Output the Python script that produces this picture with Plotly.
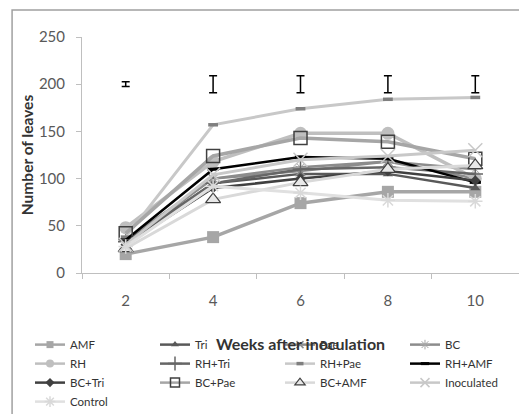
import plotly.graph_objects as go

weeks = ["2", "4", "6", "8", "10"]

AMF = [20, 38, 74, 86, 86]
Tri = [30, 95, 105, 105, 90]
Pae = [32, 100, 108, 118, 100]
BC = [35, 100, 112, 118, 110]
RH = [48, 118, 148, 148, 100]
RH_Tri = [33, 95, 110, 112, 105]
RH_Pae = [38, 157, 174, 184, 186]
RH_AMF = [35, 110, 123, 121, 96]
BC_Tri = [30, 90, 100, 108, 98]
BC_Pae = [42, 124, 143, 139, 121]
BC_AMF = [26, 78, 96, 110, 114]
Inoculated = [30, 104, 120, 124, 130]
Control = [28, 92, 85, 77, 76]

lsd_y = [200, 200, 200, 200, 200]
lsd_err = [2.5, 9, 9, 9, 9]

# name, values, line colour, line width, marker style, legend marker size
series = [
    ("AMF", AMF, "#a6a6a6", 3.5, dict(symbol="square", size=12, color="#a6a6a6"), 7),
    ("Tri", Tri, "#595959", 2.5, dict(symbol="triangle-up", size=9, color="#595959"), 7),
    ("Pae", Pae, "#8c8c8c", 2.5, dict(symbol="x-thin-open", size=9, color="#8c8c8c", line=dict(width=1.5, color="#8c8c8c")), 7),
    ("BC", BC, "#8c8c8c", 2.5, dict(symbol="asterisk-open", size=10, color="#a6a6a6", line=dict(width=1, color="#a6a6a6")), 8),
    ("RH", RH, "#bfbfbf", 3.5, dict(symbol="circle", size=13, color="#bfbfbf"), 8),
    ("RH+Tri", RH_Tri, "#666666", 2.5, dict(symbol="cross-thin-open", size=11, color="#666666", line=dict(width=1.5, color="#666666")), 10),
    ("RH+Pae", RH_Pae, "#c8c8c8", 3, dict(symbol="line-ew-open", size=7, color="#7f7f7f", line=dict(width=3.5, color="#7f7f7f")), 5),
    ("RH+AMF", RH_AMF, "#000000", 2.5, dict(symbol="line-ew-open", size=8, color="#000000", line=dict(width=3, color="#000000")), 6),
    ("BC+Tri", BC_Tri, "#404040", 2.5, dict(symbol="diamond", size=8, color="#404040"), 7),
    ("BC+Pae", BC_Pae, "#a6a6a6", 3.5, dict(symbol="square-open", size=13, color="#404040", line=dict(width=1.5, color="#404040")), 9),
    ("BC+AMF", BC_AMF, "#d9d9d9", 3, dict(symbol="triangle-up", size=13, color="#e8e8e8", line=dict(width=1.2, color="#404040")), 9),
    ("Inoculated", Inoculated, "#c8c8c8", 3, dict(symbol="x-thin-open", size=14, color="#c8c8c8", line=dict(width=1.5, color="#c8c8c8")), 9),
    ("Control", Control, "#e0e0e0", 3, dict(symbol="asterisk-open", size=12, color="#d9d9d9", line=dict(width=1.5, color="#d9d9d9")), 9),
]

fig = go.Figure()
for name, vals, col, w, mk, lsize in series:
    fig.add_trace(go.Scatter(
        x=weeks, y=vals, name=name, mode="lines+markers", legendgroup=name,
        showlegend=False, line=dict(color=col, width=w), marker=mk,
    ))
for name, vals, col, w, mk, lsize in series:
    lmk = dict(mk)
    lmk["size"] = lsize
    fig.add_trace(go.Scatter(
        x=[None], y=[None], name=name, mode="lines+markers", legendgroup=name,
        showlegend=True, line=dict(color=col, width=min(w, 2.5)), marker=lmk,
    ))

fig.add_trace(go.Scatter(
    x=weeks, y=lsd_y, mode="markers", showlegend=False,
    marker=dict(size=1, color="rgba(0,0,0,0)"),
    error_y=dict(type="data", array=lsd_err, visible=True, color="#000000", thickness=1.5, width=4),
))

# page body has an 8px margin, so the figure is sized to fill the rest of the window
fig.update_layout(
    width=519, height=406,
    margin=dict(l=74, r=8, t=29, b=141, autoexpand=False),
    paper_bgcolor="white", plot_bgcolor="white",
    font=dict(family="Lato", color="#404040"),
    showlegend=True,
    legend=dict(
        orientation="h", x=-0.119, xanchor="left", y=-0.242, yanchor="top",
        entrywidth=80, entrywidthmode="pixels",
        font=dict(family="Lato", size=11.5, color="#333333"),
        bgcolor="rgba(0,0,0,0)", tracegroupgap=0, itemwidth=30,
    ),
    xaxis=dict(
        type="category", range=[-0.5, 4.5],
        showline=True, linecolor="#bfbfbf", linewidth=1,
        ticks="outside", tickson="boundaries", ticklen=5, tickcolor="#bfbfbf",
        showgrid=False, zeroline=False, ticklabelstandoff=14,
        tickfont=dict(family="Lato", size=15, color="#595959"),
        title=dict(text="<b>Weeks after inoculation</b>", font=dict(family="Lato", size=16, color="#333333"), standoff=30),
    ),
    yaxis=dict(
        range=[0, 250], tickvals=[0, 50, 100, 150, 200, 250],
        showline=True, linecolor="#bfbfbf", linewidth=1,
        ticks="outside", ticklen=5, tickcolor="#bfbfbf",
        showgrid=False, zeroline=False, ticklabelstandoff=8,
        tickfont=dict(family="Lato", size=15, color="#595959"),
        title=dict(text="<b>Number of leaves</b>", font=dict(family="Lato", size=15.5, color="#333333"), standoff=1),
    ),
    shapes=[dict(type="rect", xref="paper", yref="paper",
                 x0=-0.160, x1=1.05, y0=-0.62, y1=1.114,
                 line=dict(color="#a0a0a0", width=1.5), layer="below")],
)

fig.write_html("out.html")
